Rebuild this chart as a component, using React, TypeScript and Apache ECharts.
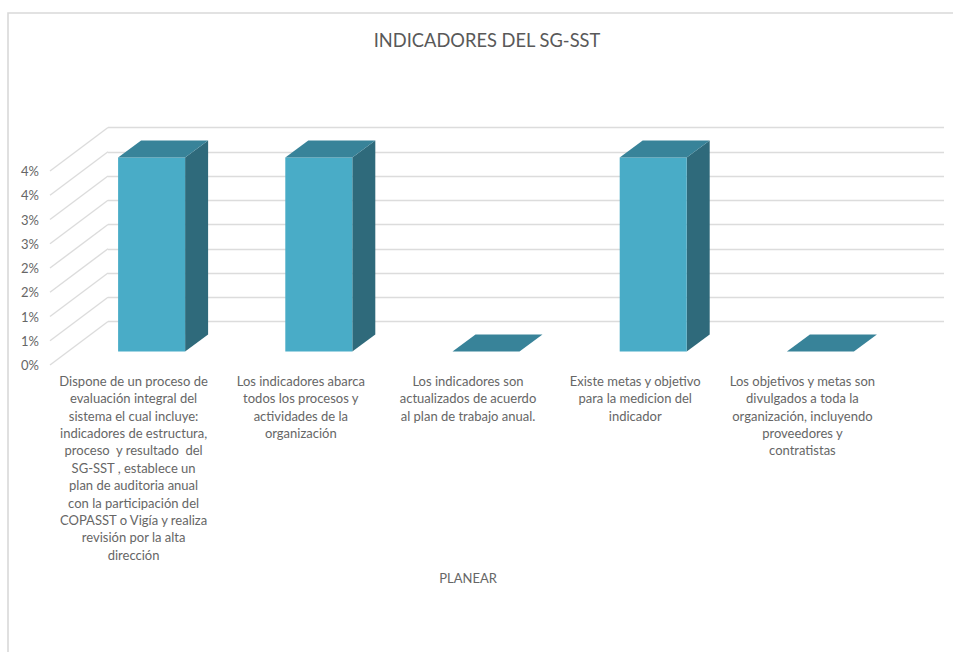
import React, { useEffect, useRef } from "react";
import * as echarts from "echarts";

const chartTitle = "INDICADORES DEL SG-SST";
const axisTitle = "PLANEAR";
const categories = [
  "Dispone de un proceso de\nevaluación integral del\nsistema el cual incluye:\nindicadores de estructura,\nproceso  y resultado  del\nSG-SST , establece un\nplan de auditoria anual\ncon la participación del\nCOPASST o Vigía y realiza\nrevisión por la alta\ndirección",
  "Los indicadores abarca\ntodos los procesos y\nactividades de la\norganización",
  "Los indicadores son\nactualizados de acuerdo\nal plan de trabajo anual.",
  "Existe metas y objetivo\npara la medicion del\nindicador",
  "Los objetivos y metas son\ndivulgados a toda la\norganización, incluyendo\nproveedores y\ncontratistas",
];
const values = [4, 4, 0, 4, 0];
const ticks = [0, 0.5, 1, 1.5, 2, 2.5, 3, 3.5, 4];

const FONT = "Lato";
const TEXT = "#666666";
const GRID = "#dcdcdc";
const FRONT = "#49acc7";
const TOP = "#388399";
const SIDE = "#2f6a7b";

// Oblique projection of the 3D box
const WALL_DX = 58;
const WALL_DY = -43.5;
const BAR_W = 67;
const BAR_DX = 23;
const BAR_DY = -17;
const BAR_OFF_X = 18;
const BAR_OFF_Y = -13.5;

export default function App() {
  const ref = useRef<HTMLDivElement>(null);
  useEffect(() => {
    const chart = echarts.init(ref.current!, null, { renderer: "svg" });
    chart.setOption({
      animation: false,
      backgroundColor: "#fff",
      title: {
        text: chartTitle,
        left: 482,
        top: 26,
        textAlign: "center",
        textStyle: { fontFamily: FONT, fontSize: 18.3, fontWeight: "normal", color: "#595959" },
      },
      graphic: [
        {
          type: "polyline",
          silent: true,
          shape: { points: [[8, 652], [8, 13], [953, 13]] },
          style: { fill: "none", stroke: "#d9d9d9", lineWidth: 1.6 },
        },
      ],
      grid: [
        { left: 50, top: 171, width: 836, height: 194 },
        { left: 50 + WALL_DX, top: 171 + WALL_DY, width: 836, height: 194 },
      ],
      xAxis: [
        {
          gridIndex: 0,
          type: "category",
          data: categories,
          axisLine: { show: false },
          axisTick: { show: false },
          axisLabel: {
            interval: 0,
            margin: 7,
            fontFamily: FONT,
            fontSize: 13,
            lineHeight: 17.4,
            color: TEXT,
            align: "center",
            verticalAlign: "top",
          },
          name: axisTitle,
          nameLocation: "middle",
          nameGap: 206,
          nameTextStyle: { fontFamily: FONT, fontSize: 13, color: TEXT },
        },
        {
          gridIndex: 1,
          type: "category",
          data: categories,
          axisLine: { show: false },
          axisTick: { show: false },
          axisLabel: { show: false },
        },
      ],
      yAxis: [
        {
          gridIndex: 0,
          type: "value",
          min: 0,
          max: 4,
          interval: 0.5,
          axisLine: { show: false },
          axisTick: { show: false },
          splitLine: { show: false },
          axisLabel: {
            margin: 11,
            fontFamily: FONT,
            fontSize: 13,
            color: TEXT,
            formatter: (v: number) => Math.round(v) + "%",
          },
        },
        {
          gridIndex: 1,
          type: "value",
          min: 0,
          max: 4,
          interval: 0.5,
          axisLine: { show: false },
          axisTick: { show: false },
          axisLabel: { show: false },
          splitLine: { show: true, lineStyle: { color: GRID, width: 1.4 } },
        },
      ],
      series: [
        {
          type: "custom",
          name: "floor-lines",
          xAxisIndex: 0,
          yAxisIndex: 0,
          silent: true,
          z: 1,
          data: ticks.map((t) => [0, t]),
          encode: { x: 0, y: 1 },
          renderItem: (params: any, api: any) => {
            const left = params.coordSys.x;
            const y = api.coord([0, api.value(1)])[1];
            return {
              type: "line",
              shape: { x1: left, y1: y, x2: left + WALL_DX, y2: y + WALL_DY },
              style: { stroke: GRID, lineWidth: 1.4, fill: "none" },
            };
          },
        },
        {
          type: "custom",
          name: "bars",
          xAxisIndex: 0,
          yAxisIndex: 0,
          silent: true,
          z: 3,
          data: values.map((v, i) => [i, v]),
          encode: { x: 0, y: 1 },
          renderItem: (_: any, api: any) => {
            const [cx, topY] = api.coord([api.value(0), api.value(1)]);
            const [, baseY] = api.coord([api.value(0), 0]);
            const x0 = cx + BAR_OFF_X - BAR_W / 2;
            const x1 = x0 + BAR_W;
            const yT = topY + BAR_OFF_Y;
            const yB = baseY + BAR_OFF_Y;
            const children: any[] = [];
            if (yB - yT > 0.5) {
              children.push({
                type: "polygon",
                shape: { points: [[x1, yT], [x1 + BAR_DX, yT + BAR_DY], [x1 + BAR_DX, yB + BAR_DY], [x1, yB]] },
                style: { fill: SIDE },
              });
              children.push({
                type: "rect",
                shape: { x: x0, y: yT, width: BAR_W, height: yB - yT },
                style: { fill: FRONT },
              });
            }
            children.push({
              type: "polygon",
              shape: { points: [[x0, yT], [x1, yT], [x1 + BAR_DX, yT + BAR_DY], [x0 + BAR_DX, yT + BAR_DY]] },
              style: { fill: TOP },
            });
            return { type: "group", children };
          },
        },
      ],
    });
    return () => chart.dispose();
  }, []);
  return <div ref={ref} style={{ position: "fixed", left: 0, top: 0, width: 953, height: 652 }} />;
}
